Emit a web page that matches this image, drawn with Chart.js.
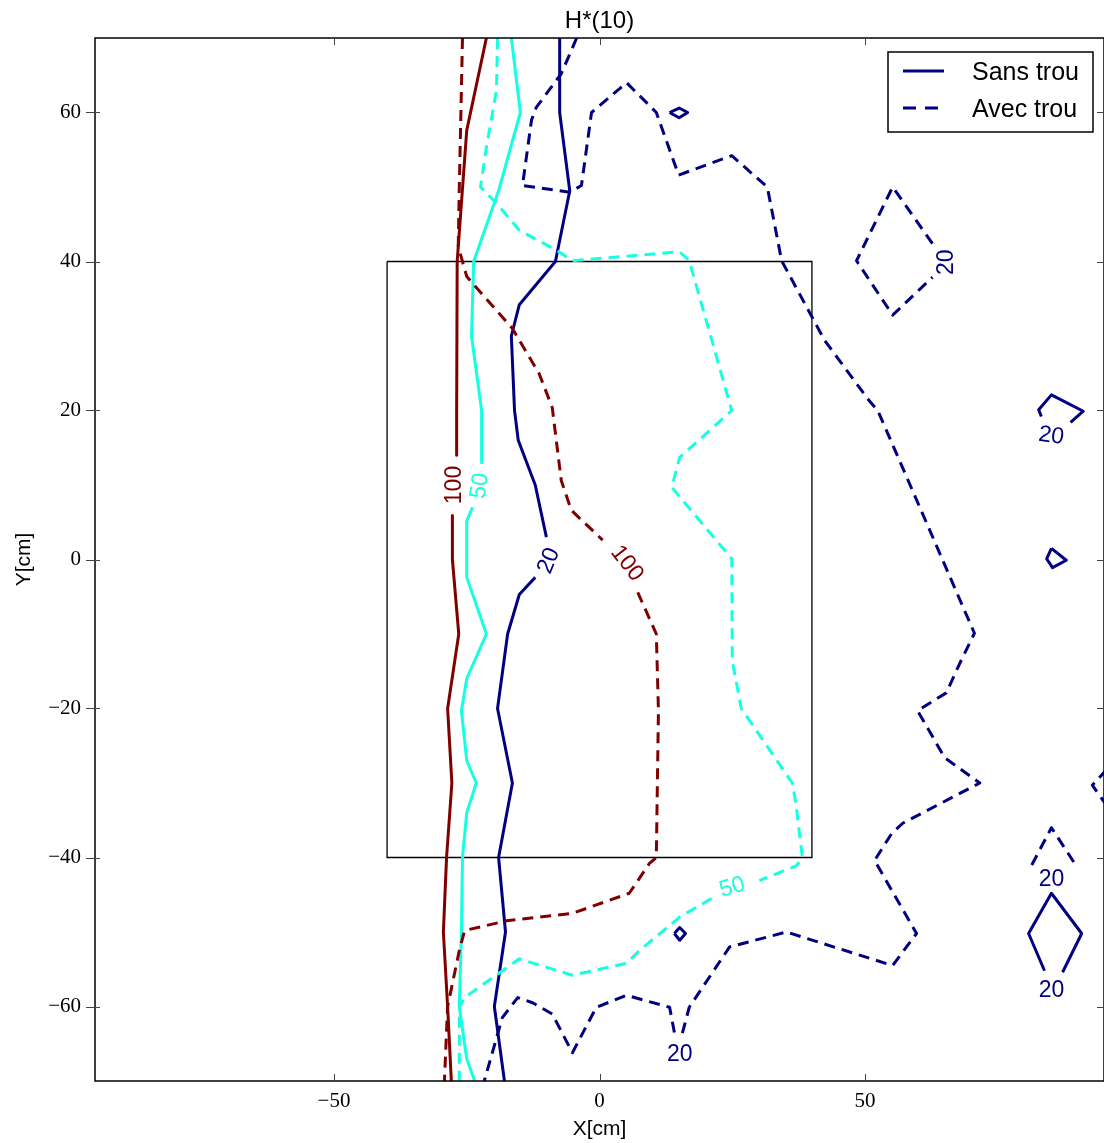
<!DOCTYPE html>
<html>
<head>
<meta charset="utf-8">
<script src="https://cdn.jsdelivr.net/npm/chart.js@4/dist/chart.umd.min.js"></script>
<style>
  html, body { margin: 0; padding: 0; background: #fff; }
  canvas { display: block; }
</style>
</head>
<body>
<canvas id="chart" width="1104" height="1143"></canvas>
<script>
// ticks
const xTickValues = [-50, 0, 50];
const yTickValues = [-60, -40, -20, 0, 20, 40, 60];

// Sans trou (solid) - null = gap for inline label
const sans100 = [[-21.3, 70], [-25.0, 57.6], [-26.8, 40], [-26.9, 20], [-26.9, 14], null,
  [-27.7, 5.9], [-27.7, 0], [-26.5, -10], [-28.6, -20], [-27.8, -30], [-28.8, -40], [-29.4, -50], [-28.6, -60], [-27.9, -70]];
const sans50 = [[-16.6, 70], [-14.9, 60], [-19.0, 49.5], [-23.7, 40], [-24.1, 30], [-22.2, 20], [-22.2, 13], null,
  [-23.9, 7], [-25.0, 5.2], [-25.0, -2.4], [-21.3, -10], [-25.0, -16], [-26.0, -20.3], [-25.0, -27], [-23.2, -30],
  [-25.0, -34], [-25.8, -40], [-26.0, -50], [-26.4, -60], [-25.0, -67], [-23.5, -70]];
const sans20 = [[-7.5, 70], [-7.5, 60], [-5.6, 49.5], [-8.3, 40], [-15.1, 34.2], [-16.6, 30], [-16.0, 20], [-15.3, 16],
  [-12.1, 10], [-10.0, 3], null,
  [-12.1, -2.4], [-15.1, -4.7], [-17.3, -10], [-19.2, -20], [-16.4, -30], [-19.0, -40], [-17.7, -50], [-19.8, -60], [-17.9, -70]];
const sans20Islands = [
  [[83.2, 19.2], [82.7, 20.1], [85.1, 22.1], [91.1, 19.9], [88.7, 18.4]],
  [[85.1, 1.5], [87.9, -0.1], [85.3, -1.1], [84.2, 0.1], [85.1, 1.5]],
  [[83.8, -55.2], [80.8, -50.2], [85.1, -44.8], [90.8, -50.2], [87.2, -55.4]],
  [[13.2, 60], [15.0, 60.6], [16.6, 60], [15.0, 59.3], [13.2, 60]],
  [[14.1, -50.2], [15.1, -49.4], [16.2, -50.2], [15.1, -51.1], [14.1, -50.2]]
];

// Avec trou (dashed)
const avec100 = [[-25.8, 70], [-26.4, 50], [-26.6, 42], [-25.0, 38], [-23.2, 36.5], [-16.4, 31], [-11.4, 25],
  [-8.9, 20.4], [-7.2, 10.6], [-5.3, 6.6], [0.6, 2.6], null,
  [7.2, -4.4], [10.7, -10], [11.1, -20.3], [10.7, -40], [9.4, -40.8], [5.6, -44.8], [-5.1, -47.5], [-17.5, -48.5],
  [-25.4, -49.8], [-26.4, -52.5], [-28.6, -60], [-29.2, -70]];
const avec50 = [[-19.2, 70], [-19.4, 63], [-21.3, 55.3], [-22.4, 50], [-19.4, 47.8], [-15.1, 44.2], [-8.1, 41.5],
  [-5.1, 40.1], [15.1, 41.3], [16.9, 40.1], [24.9, 20], [15.1, 13.7], [13.6, 9.7], [24.9, 0.1], [25.0, -13.6],
  [26.7, -20], [36.3, -30], [37.0, -32.8], [38.2, -40], [37.1, -41.1], [30.1, -43.1], null,
  [21.1, -45.5], [15.1, -48], [7.5, -52.5], [5.1, -54.2], [-5.1, -55.8], [-15.1, -53.6], [-17.5, -54.8],
  [-25.4, -58.8], [-26.4, -60.1], [-26.4, -70]];
const avec20 = [[-4.3, 70], [-7.2, 65.2], [-11.9, 60.7], [-12.8, 59], [-14.5, 50.2], [-5.6, 49.3], [-3.4, 50.2],
  [-1.5, 60], [5.1, 64], [10.7, 60], [14.9, 51.6], [24.9, 54.2], [31.6, 50], [34.3, 40.1], [42.4, 29.4],
  [50.8, 21.3], [52.4, 20], [70.6, -9.9], [67.8, -14], [65.3, -17.9], [59.9, -20.3], [65.0, -26.6], [71.6, -30],
  [57.1, -35.4], [55.0, -36.8], [51.8, -40.4], [59.7, -50.2], [55.2, -54.5], [35.2, -50], [24.5, -52],
  [16.9, -60.1], [15.6, -63.6], null,
  [14.1, -63.5], [13.2, -60.1], [5.1, -58.5], [-0.6, -60.1], [-5.1, -66.2], [-8.9, -61], [-12.6, -59.5],
  [-15.4, -58.8], [-18.3, -61.5], [-21.7, -70]];
const avec20Islands = [
  [[62.7, 42.4], [55.2, 50], [48.4, 40.1], [55.2, 32.8], [62.7, 37.9]],
  [[95.5, -28.2], [92.8, -30.3], [95.5, -33]],
  [[81.4, -41], [85.1, -36], [89.3, -40.6]]
];

// zone rectangle
const boxX = [-40, 40, 40, -40, -40];
const boxY = [40, 40, -40, -40, 40];

// inline contour labels
const contourLabels = [
  { text: '100', x: -27.6, y: 10.0, rot: -90, level: 100 },
  { text: '50', x: -22.8, y: 9.9, rot: -82, level: 50 },
  { text: '20', x: -9.8, y: -0.1, rot: -68, level: 20 },
  { text: '100', x: 5.4, y: -0.4, rot: 52, level: 100 },
  { text: '50', x: 24.9, y: -43.8, rot: -16, level: 50 },
  { text: '20', x: 65.1, y: 39.9, rot: -90, level: 20 },
  { text: '20', x: 85.1, y: 16.8, rot: 8, level: 20 },
  { text: '20', x: 85.1, y: -42.7, rot: 0, level: 20 },
  { text: '20', x: 85.1, y: -57.7, rot: 0, level: 20 },
  { text: '20', x: 15.1, y: -66.2, rot: 0, level: 20 }
];

const colors = { 20: '#000080', 50: '#15ffe2', 100: '#800000' };
const DASH = [11, 7];

const datasets = [];
function addLine(arr, color, dashed) {
  let seg = [];
  const flush = () => {
    if (seg.length) datasets.push({
      data: seg.map(p => ({ x: p[0], y: p[1] })),
      borderColor: color,
      borderWidth: 3,
      borderDash: dashed ? DASH : [],
      borderJoinStyle: 'round'
    });
    seg = [];
  };
  arr.forEach(p => { if (p === null) flush(); else seg.push(p); });
  flush();
}

addLine(avec100, colors[100], true);
addLine(avec50, colors[50], true);
addLine(avec20, colors[20], true);
avec20Islands.forEach(a => addLine(a, colors[20], true));
addLine(sans100, colors[100], false);
addLine(sans50, colors[50], false);
addLine(sans20, colors[20], false);
sans20Islands.forEach(a => addLine(a, colors[20], false));

datasets.push({
  data: boxX.map((x, i) => ({ x: x, y: boxY[i] })),
  borderColor: '#000',
  borderWidth: 1.3
});

const minus = v => (v < 0 ? '\u2212' + Math.abs(v) : String(v));

// frame, ticks, titles, legend, contour labels
const decor = {
  id: 'decor',
  afterDraw(chart) {
    const ctx = chart.ctx;
    const ca = chart.chartArea;
    const xs = chart.scales.x, ys = chart.scales.y;
    ctx.save();

    // contour labels
    ctx.font = '23px "Liberation Sans", Arial, sans-serif';
    ctx.textAlign = 'center';
    ctx.textBaseline = 'alphabetic';
    contourLabels.forEach(l => {
      ctx.save();
      ctx.translate(xs.getPixelForValue(l.x), ys.getPixelForValue(l.y));
      ctx.rotate(l.rot * Math.PI / 180);
      ctx.fillStyle = colors[l.level];
      ctx.fillText(l.text, 0, 8);
      ctx.restore();
    });

    // frame
    ctx.strokeStyle = '#000';
    ctx.lineWidth = 1.5;
    ctx.strokeRect(ca.left, ca.top, ca.right - ca.left, ca.bottom - ca.top);

    // ticks
    ctx.lineWidth = 1;
    ctx.strokeStyle = '#444';
    ctx.beginPath();
    xTickValues.forEach(v => {
      const px = Math.round(xs.getPixelForValue(v)) + 0.5;
      ctx.moveTo(px, ca.bottom); ctx.lineTo(px, ca.bottom - 7);
      ctx.moveTo(px, ca.top); ctx.lineTo(px, ca.top + 7);
    });
    yTickValues.forEach(v => {
      const py = Math.round(ys.getPixelForValue(v)) + 0.5;
      ctx.moveTo(ca.left - 9, py); ctx.lineTo(ca.left + 5, py);
      ctx.moveTo(ca.right, py); ctx.lineTo(ca.right - 7, py);
    });
    ctx.stroke();

    // title + axis titles
    ctx.fillStyle = '#000';
    ctx.textAlign = 'center';
    ctx.font = '24px "Liberation Sans", Arial, sans-serif';
    ctx.fillText('H*(10)', (ca.left + ca.right) / 2 + 0, 28);
    ctx.font = '21px "Liberation Sans", Arial, sans-serif';
    ctx.fillText('X[cm]', xs.getPixelForValue(0), 1135);
    ctx.save();
    ctx.translate(30, ys.getPixelForValue(0));
    ctx.rotate(-Math.PI / 2);
    ctx.fillText('Y[cm]', 0, 0);
    ctx.restore();

    // legend
    const lx = ca.right - 216, ly = ca.top + 14;
    ctx.fillStyle = '#fff';
    ctx.fillRect(lx, ly, 205, 80);
    ctx.strokeStyle = '#000';
    ctx.lineWidth = 1.5;
    ctx.strokeRect(lx, ly, 205, 80);
    ctx.strokeStyle = colors[20];
    ctx.lineWidth = 3;
    ctx.beginPath();
    ctx.moveTo(lx + 15, ly + 19); ctx.lineTo(lx + 56, ly + 19);
    ctx.stroke();
    ctx.setLineDash([13, 9]);
    ctx.beginPath();
    ctx.moveTo(lx + 15, ly + 56); ctx.lineTo(lx + 56, ly + 56);
    ctx.stroke();
    ctx.setLineDash([]);
    ctx.fillStyle = '#000';
    ctx.textAlign = 'left';
    ctx.font = '25px "Liberation Sans", Arial, sans-serif';
    ctx.fillText('Sans trou', lx + 84, ly + 28);
    ctx.fillText('Avec trou', lx + 84, ly + 65);

    ctx.restore();
  }
};

new Chart(document.getElementById('chart').getContext('2d'), {
  type: 'scatter',
  data: { datasets: datasets },
  options: {
    responsive: false,
    animation: false,
    devicePixelRatio: 1,
    showLine: true,
    elements: { point: { radius: 0, hoverRadius: 0 }, line: { tension: 0, fill: false } },
    layout: { padding: { top: 38, left: 0, right: 0, bottom: 0 } },
    plugins: { legend: { display: false }, tooltip: { enabled: false }, title: { display: false } },
    events: [],
    scales: {
      x: {
        type: 'linear', position: 'bottom', min: -95, max: 95,
        grid: { display: false, drawTicks: false },
        border: { display: false },
        afterBuildTicks: s => { s.ticks = xTickValues.map(v => ({ value: v })); },
        afterFit: s => { s.height = 62; },
        ticks: {
          padding: 8, color: '#000', maxRotation: 0,
          font: { family: '"Liberation Serif", "DejaVu Serif", serif', size: 21 },
          callback: minus
        }
      },
      y: {
        type: 'linear', position: 'left', min: -70, max: 70,
        grid: { display: false, drawTicks: false },
        border: { display: false },
        afterBuildTicks: s => { s.ticks = yTickValues.map(v => ({ value: v })); },
        afterFit: s => { s.width = 95; },
        ticks: {
          padding: 14, color: '#000',
          font: { family: '"Liberation Serif", "DejaVu Serif", serif', size: 21 },
          callback: minus
        }
      }
    }
  },
  plugins: [decor]
});
</script>
</body>
</html>
